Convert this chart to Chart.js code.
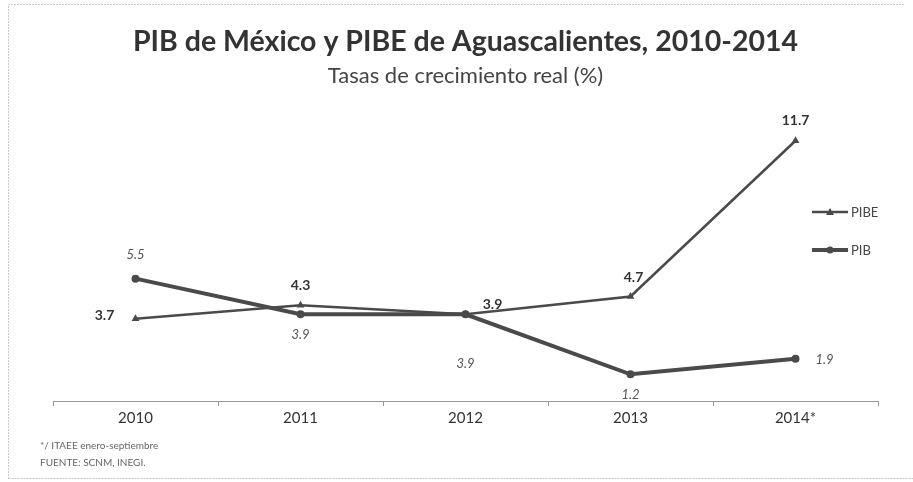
<!DOCTYPE html>
<html>
<head>
<meta charset="utf-8">
<script src="https://cdn.jsdelivr.net/npm/chart.js@4/dist/chart.umd.min.js"></script>
<style>
  html, body { margin: 0; padding: 0; background: #fff; }
  #wrap { width: 913px; height: 482px; position: relative; }
</style>
</head>
<body>
<div id="wrap"><canvas id="chart"></canvas></div>
<script>
const years = ['2010', '2011', '2012', '2013', '2014*'];
const pibe = [3.7, 4.3, 3.9, 4.7, 11.7];
const pib = [5.5, 3.9, 3.9, 1.2, 1.9];
const seriesNames = ['PIBE', 'PIB'];
const footnotes = ['*/ ITAEE enero-septiembre', 'FUENTE: SCNM, INEGI.'];

// label offsets (dx, dy) from each point
const labelOffsets = [
  [[-31, -3], [0, -20], [27, -10], [3, -19], [0, -20]],
  [[0, -24], [0, 21], [0, 50], [0, 21], [29, 1]]
];

const FONT = 'Lato, "Open Sans", sans-serif';

const frame = {
  id: 'frame',
  beforeDraw(chart) {
    const c = chart.ctx;
    c.save();
    c.fillStyle = '#fff';
    c.fillRect(0, 0, chart.width, chart.height);
    c.strokeStyle = '#c8c8c8';
    c.lineWidth = 1;
    c.setLineDash([2, 1]);
    c.beginPath();
    c.moveTo(8.5, 479);
    c.lineTo(8.5, 4.5);
    c.lineTo(905, 4.5);
    c.moveTo(8.5, 478.5);
    c.lineTo(913, 478.5);
    c.stroke();
    c.restore();
  }
};

const valueLabels = {
  id: 'valueLabels',
  afterDatasetsDraw(chart) {
    const c = chart.ctx;
    c.save();
    c.textAlign = 'center';
    c.textBaseline = 'middle';
    chart.data.datasets.forEach((ds, i) => {
      const meta = chart.getDatasetMeta(i);
      if (i === 0) {
        c.font = 'bold 14px ' + FONT;
        c.fillStyle = '#333';
      } else {
        c.font = 'italic 13px ' + FONT;
        c.fillStyle = '#555';
      }
      meta.data.forEach((pt, j) => {
        const off = labelOffsets[i][j];
        c.fillText(ds.data[j].toFixed(1), pt.x + off[0], pt.y + off[1]);
      });
    });
    c.restore();
  }
};

const sideLegend = {
  id: 'sideLegend',
  afterDraw(chart) {
    const c = chart.ctx;
    c.save();
    const x0 = 812, x1 = 848;
    const rows = [212, 250];
    chart.data.datasets.forEach((ds, i) => {
      const y = rows[i];
      c.strokeStyle = ds.borderColor;
      c.lineWidth = ds.borderWidth;
      c.beginPath();
      c.moveTo(x0, y);
      c.lineTo(x1, y);
      c.stroke();
      c.fillStyle = ds.borderColor;
      const mx = (x0 + x1) / 2;
      c.beginPath();
      if (ds.pointStyle === 'triangle') {
        c.moveTo(mx, y - 4);
        c.lineTo(mx + 4, y + 3);
        c.lineTo(mx - 4, y + 3);
        c.closePath();
      } else {
        c.arc(mx, y, 3.5, 0, Math.PI * 2);
      }
      c.fill();
      c.font = '13px ' + FONT;
      c.fillStyle = '#444';
      c.textAlign = 'left';
      c.textBaseline = 'middle';
      c.fillText(ds.label, x1 + 3, y + 1);
    });
    c.font = '10px ' + FONT;
    c.fillStyle = '#666';
    c.textAlign = 'left';
    c.fillText(footnotes[0], 40, 446);
    c.fillText(footnotes[1], 40, 463);
    c.restore();
  }
};

new Chart(document.getElementById('chart'), {
  type: 'line',
  data: {
    labels: years,
    datasets: [
      {
        label: seriesNames[0],
        data: pibe,
        borderColor: '#4a4a4a',
        backgroundColor: '#4a4a4a',
        borderWidth: 2.5,
        pointStyle: 'triangle',
        pointRadius: 4.5,
        pointBorderWidth: 0,
        tension: 0
      },
      {
        label: seriesNames[1],
        data: pib,
        borderColor: '#4a4a4a',
        backgroundColor: '#4a4a4a',
        borderWidth: 4,
        pointStyle: 'circle',
        pointRadius: 4,
        pointBorderWidth: 0,
        tension: 0
      }
    ]
  },
  options: {
    responsive: true,
    maintainAspectRatio: false,
    animation: false,
    layout: { padding: { left: 53, right: 35, bottom: 52, top: 0 } },
    scales: {
      x: {
        offset: true,
        border: { display: true, color: '#9a9a9a', width: 1 },
        grid: { display: true, offset: true, drawOnChartArea: false, tickLength: 5, color: '#9a9a9a' },
        ticks: { color: '#333', font: { family: FONT, size: 15 }, padding: 3 }
      },
      y: {
        display: false,
        min: 0,
        max: 14
      }
    },
    plugins: {
      legend: { display: false },
      tooltip: { enabled: false },
      title: {
        display: true,
        fullSize: false,
        text: 'PIB de México y PIBE de Aguascalientes, 2010-2014',
        color: '#333',
        font: { family: FONT, size: 28.5, weight: 'bold' },
        padding: { top: 25, bottom: 4 }
      },
      subtitle: {
        display: true,
        fullSize: false,
        text: 'Tasas de crecimiento real (%)',
        color: '#444',
        font: { family: FONT, size: 22, weight: 'normal' },
        padding: { top: 0, bottom: 0 }
      }
    }
  },
  plugins: [frame, valueLabels, sideLegend]
});
</script>
</body>
</html>
